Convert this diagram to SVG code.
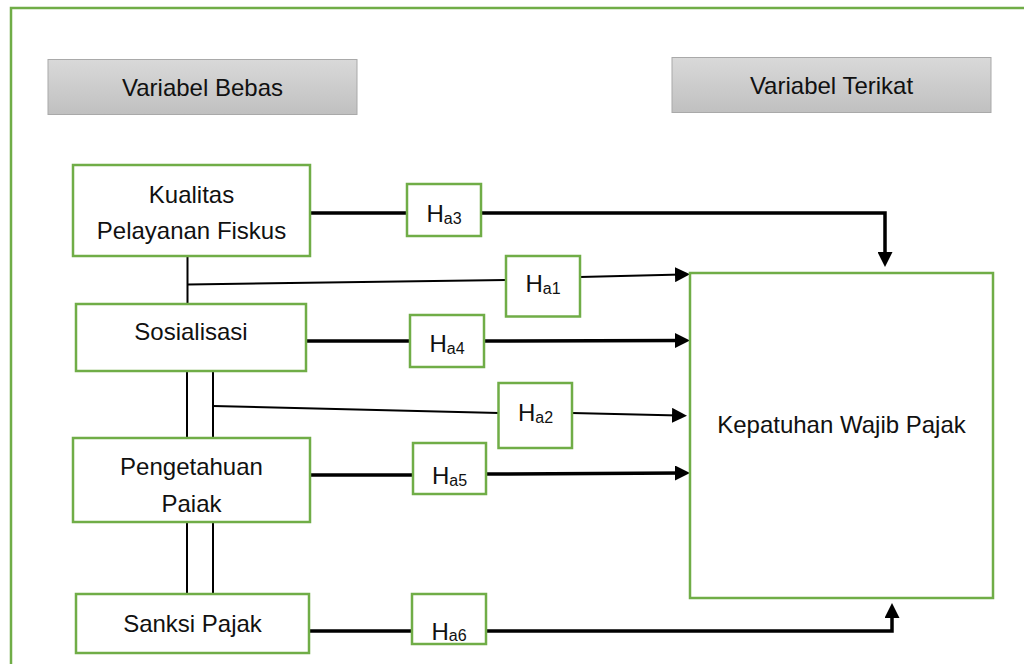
<svg xmlns="http://www.w3.org/2000/svg" width="1024" height="664" viewBox="0 0 1024 664">
<defs>
<linearGradient id="gray" x1="0" y1="0" x2="0" y2="1">
<stop offset="0" stop-color="#d9d9d9"/>
<stop offset="1" stop-color="#c0c0c0"/>
</linearGradient>
<marker id="ah" markerUnits="userSpaceOnUse" viewBox="0 0 15 15" markerWidth="15" markerHeight="15" refX="7" refY="7.5" orient="auto">
<path d="M0,0 L15,7.5 L0,15 z" fill="#000"/>
</marker>
<style>
.frame{fill:none;stroke:#70ad47;stroke-width:2.5}
.hdr{fill:url(#gray);stroke:#a9a9a9;stroke-width:1}
.box{fill:#fff;stroke:#70ad47;stroke-width:2.5}
.t{font-family:"Liberation Sans",Arial,sans-serif;font-size:24px;fill:#111;text-anchor:middle}
.sub{font-size:16px}
.thick{fill:none;stroke:#000;stroke-width:3.5}
.thin{fill:none;stroke:#000;stroke-width:2}
</style>
</defs>
<rect x="0" y="0" width="1024" height="664" fill="#fff"/>
<rect class="frame" x="11" y="8" width="1030" height="700"/>

<g id="hdr-bebas">
<rect class="hdr" x="48" y="59.5" width="309" height="55"/>
<text class="t" x="202.5" y="96">Variabel Bebas</text>
</g>
<g id="hdr-terikat">
<rect class="hdr" x="672" y="57.5" width="319" height="55"/>
<text class="t" x="831.5" y="94">Variabel Terikat</text>
</g>

<g id="connectors">
<path class="thin" d="M187.5,256 V304 M187,371 V438 M213,371 V438 M187,522 V594 M213,522 V594"/>
<path class="thick" d="M310,213 H407"/>
<path class="thick" d="M481,213 H885 V259" marker-end="url(#ah)"/>
<path class="thin" d="M188,284.5 L506,280"/>
<path class="thin" d="M580,277 L682,274.5" marker-end="url(#ah)"/>
<path class="thick" d="M306,341 H410"/>
<path class="thick" d="M484,341 L682,340.5" marker-end="url(#ah)"/>
<path class="thin" d="M213,406 L499,413"/>
<path class="thin" d="M572,413 L679,415.5" marker-end="url(#ah)"/>
<path class="thick" d="M310,475 H413"/>
<path class="thick" d="M486,474 L682,473" marker-end="url(#ah)"/>
<path class="thick" d="M309,631 H412"/>
<path class="thick" d="M486,631 H892 V611" marker-end="url(#ah)"/>
</g>

<g id="n-kualitas">
<rect class="box" x="73" y="165" width="237" height="91"/>
<text class="t" x="191.5" y="203">Kualitas</text>
<text class="t" x="191.5" y="239">Pelayanan Fiskus</text>
</g>
<g id="n-sosialisasi">
<rect class="box" x="76" y="304" width="230" height="67"/>
<text class="t" x="191" y="340">Sosialisasi</text>
</g>
<g id="n-pengetahuan">
<rect class="box" x="73" y="438" width="237" height="84"/>
<text class="t" x="191.5" y="475">Pengetahuan</text>
<text class="t" x="191.5" y="511.5">Paiak</text>
</g>
<g id="n-sanksi">
<rect class="box" x="76" y="594" width="233" height="59"/>
<text class="t" x="192.5" y="631.5">Sanksi Pajak</text>
</g>
<g id="n-kepatuhan">
<rect class="box" x="690" y="273" width="303" height="325"/>
<text class="t" x="841.5" y="433">Kepatuhan Wajib Pajak</text>
</g>

<g id="h-a3">
<rect class="box" x="407" y="184" width="74" height="52"/>
<text class="t" x="444" y="221.5">H<tspan class="sub" dy="2">a3</tspan></text>
</g>
<g id="h-a1">
<rect class="box" x="506" y="256" width="74" height="60.5"/>
<text class="t" x="543" y="292">H<tspan class="sub" dy="2">a1</tspan></text>
</g>
<g id="h-a4">
<rect class="box" x="410" y="315" width="74" height="52"/>
<text class="t" x="447" y="352">H<tspan class="sub" dy="2">a4</tspan></text>
</g>
<g id="h-a2">
<rect class="box" x="498.5" y="383" width="73.5" height="65"/>
<text class="t" x="535.5" y="421">H<tspan class="sub" dy="2">a2</tspan></text>
</g>
<g id="h-a5">
<rect class="box" x="413" y="443" width="73" height="51"/>
<text class="t" x="449.5" y="484">H<tspan class="sub" dy="2">a5</tspan></text>
</g>
<g id="h-a6">
<rect class="box" x="412" y="594" width="74" height="50"/>
<text class="t" x="449" y="640">H<tspan class="sub" dy="1">a6</tspan></text>
</g>
</svg>
